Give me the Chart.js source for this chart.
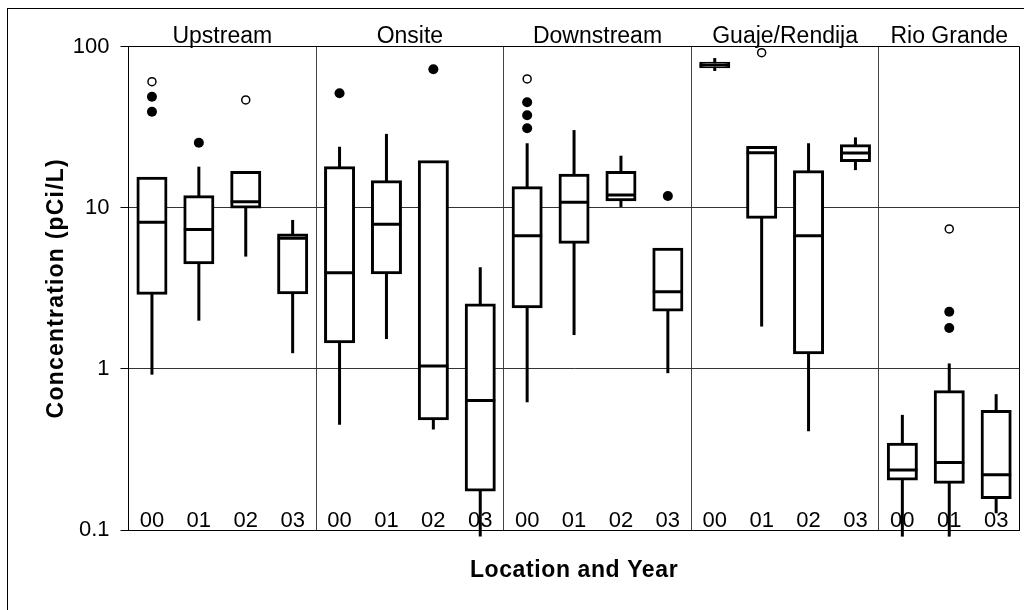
<!DOCTYPE html>
<html><head><meta charset="utf-8">
<script src="https://cdn.jsdelivr.net/npm/chart.js@4/dist/chart.umd.min.js"></script>
<style>html,body{margin:0;padding:0;background:#fff}#wrap{width:1024px;height:610px;position:relative}</style>
</head><body><div id="wrap"><canvas id="c"></canvas></div>
<script>
const groupNames = ['Upstream', 'Onsite', 'Downstream', 'Guaje/Rendija', 'Rio Grande'];
const groupCounts = [4, 4, 4, 4, 3];
const years = ['00','01','02','03','00','01','02','03','00','01','02','03','00','01','02','03','00','01','03'];

const whiskerLow  = [0.92, 1.99, 4.97, 1.25, 0.45, 1.53, 0.42, 0.091, 0.62, 1.62, 10.1, 0.94, 70.5, 1.83, 0.41, 17.1, 0.091, 0.091, 0.127];
const q1          = [2.94, 4.56, 10.1, 2.97, 1.47, 3.95, 0.49, 0.177, 2.43, 6.10, 11.2, 2.32, 74.8, 8.72, 1.26, 19.6, 0.207, 0.198, 0.159];
const median      = [8.12, 7.33, 10.9, 6.45, 3.95, 7.89, 1.04, 0.635, 6.70, 10.8, 12.0, 3.01, 76.8, 21.9, 6.70, 21.8, 0.236, 0.262, 0.220];
const q3          = [15.2, 11.7, 16.5, 6.77, 17.7, 14.5, 19.3, 2.49, 13.3, 15.9, 16.5, 5.52, 78.8, 23.6, 16.7, 24.2, 0.340, 0.722, 0.543];
const whiskerHigh = [15.2, 17.96, 16.5, 8.39, 23.9, 28.7, 19.3, 4.27, 25.1, 30.3, 21.0, 5.52, 84.8, 23.6, 25.1, 27.3, 0.518, 1.08, 0.696];

const filledOutliers = [[48.8,39.4],[25.3],[],[],[51.3],[],[72.2],[],[45.1,37.4,31.1],[],[],[11.8],[],[],[],[],[],[2.26,1.79],[]];
const openOutliers   = [[60.5],[],[46.6],[],[],[],[],[],[62.9],[],[],[],[],[91.5],[],[],[],[7.38],[]];

const yTicks = [0.1, 1, 10, 100];
const yTickLabels = ['0.1', '1', '10', '100'];
const xTitle = 'Location and Year';
const yTitle = 'Concentration (pCi/L)';

const FONT = "'Liberation Sans', Arial, sans-serif";

const dividers = [];
groupCounts.reduce((acc, n, i) => { if (i > 0) dividers.push(acc); return acc + n; }, 0);

const frame = {
  id: 'frame',
  beforeDraw(chart) {
    const ctx = chart.ctx;
    ctx.save();
    ctx.fillStyle = '#fff';
    ctx.fillRect(0, 0, chart.width, chart.height);
    ctx.strokeStyle = '#000';
    ctx.lineWidth = 1;
    ctx.strokeRect(7.5, 8.5, chart.width + 20, chart.height + 20);
    ctx.restore();
  }
};

// year labels sit inside the plot, group labels above it, titles with slight letter spacing
const textLayer = {
  id: 'textLayer',
  beforeDatasetsDraw(chart) {
    const x = chart.scales.x, a = chart.chartArea, ctx = chart.ctx;
    ctx.save();
    ctx.fillStyle = '#000';
    ctx.textAlign = 'center';
    ctx.textBaseline = 'alphabetic';
    ctx.font = '22px ' + FONT;
    years.forEach((lab, i) => ctx.fillText(lab, x.getPixelForValue(i), a.bottom - 3.5));
    ctx.restore();
  },
  afterDraw(chart) {
    const x = chart.scales.x, a = chart.chartArea, ctx = chart.ctx;
    ctx.save();
    ctx.fillStyle = '#000';
    ctx.textAlign = 'center';
    ctx.textBaseline = 'alphabetic';
    ctx.font = '23px ' + FONT;
    let start = 0;
    groupNames.forEach((g, i) => {
      const end = start + groupCounts[i] - 1;
      const cx = (x.getPixelForValue(start) + x.getPixelForValue(end)) / 2;
      ctx.fillText(g, cx, a.top - 3.5);
      start = end + 1;
    });
    ctx.font = 'bold 23px ' + FONT;
    ctx.textBaseline = 'middle';
    ctx.letterSpacing = '0.6px';
    ctx.fillText(xTitle, (a.left + a.right) / 2, 570.5);
    ctx.translate(56.7, (a.top + a.bottom) / 2);
    ctx.rotate(-Math.PI / 2);
    ctx.letterSpacing = '1.2px';
    ctx.fillText(yTitle, 0, 0);
    ctx.restore();
  }
};

const rank = (arr) => Math.max(...arr.map(a => a.length));
const outlierSets = [];
for (let r = 0; r < rank(filledOutliers); r++) {
  outlierSets.push({ type: 'line', data: filledOutliers.map(a => a[r] ?? null), showLine: false,
    pointRadius: 5, pointBackgroundColor: '#000', pointBorderWidth: 0, order: 0 });
}
for (let r = 0; r < rank(openOutliers); r++) {
  outlierSets.push({ type: 'line', data: openOutliers.map(a => a[r] ?? null), showLine: false,
    pointRadius: 4, pointBackgroundColor: '#fff', pointBorderColor: '#000', pointBorderWidth: 1.5, order: 0 });
}

new Chart(document.getElementById('c'), {
  type: 'bar',
  data: {
    labels: years,
    datasets: [
      { type: 'bar', data: whiskerLow.map((v, i) => [v, whiskerHigh[i]]), backgroundColor: '#000',
        barThickness: 3, borderWidth: 0, inflateAmount: 0, grouped: false, order: 3, clip: false },
      { type: 'bar', data: q1.map((v, i) => [v, q3[i]]), backgroundColor: '#fff', borderColor: '#000',
        borderWidth: 3, borderSkipped: false, barThickness: 28, inflateAmount: 1.5, grouped: false, order: 2 },
      { type: 'line', data: median, showLine: false, pointStyle: 'line', pointRadius: 15,
        pointBorderWidth: 3, pointBorderColor: '#000', order: 1 },
      ...outlierSets
    ]
  },
  options: {
    responsive: true,
    maintainAspectRatio: false,
    animation: false,
    events: [],
    layout: { autoPadding: false, padding: { left: 0, right: 4.4, top: 46.5, bottom: 0 } },
    plugins: { legend: { display: false }, tooltip: { enabled: false } },
    scales: {
      x: {
        type: 'category', offset: true,
        grid: { offset: true, drawTicks: false, lineWidth: 1,
          color: c => c.type !== 'tick' ? '#000' : (dividers.includes(c.index) ? '#444' : 'rgba(0,0,0,0)') },
        border: { display: true, color: '#000', width: 1 },
        ticks: { display: false },
        title: { display: false },
        afterFit: s => { s.height = 80; }
      },
      y: {
        type: 'logarithmic', min: 0.1, max: 100,
        afterBuildTicks: s => { s.ticks = yTicks.map(v => ({ value: v })); },
        grid: { lineWidth: 1, tickLength: 8, tickColor: '#000',
          color: c => (c.tick && (c.tick.value === 100 || c.tick.value === 0.1)) ? '#000' : '#333' },
        border: { display: true, color: '#000', width: 1 },
        ticks: { callback: (v, i) => yTickLabels[i], padding: 11, font: { family: FONT, size: 22 }, color: '#000' },
        title: { display: false },
        afterFit: s => { s.width = 128.5; }
      }
    }
  },
  plugins: [frame, textLayer]
});
</script>
</body></html>
